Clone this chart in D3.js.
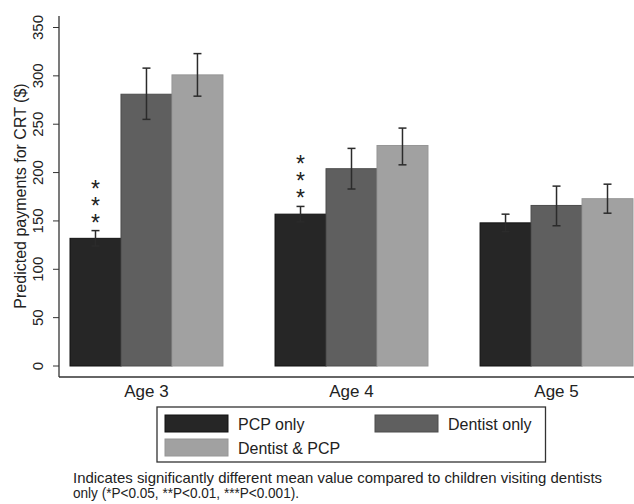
<!DOCTYPE html>
<html>
<head>
<meta charset="utf-8">
<script src="https://cdn.jsdelivr.net/npm/d3@7"></script>
<style>
  body { margin: 0; background: #fff; }
  svg { display: block; font-family: "Liberation Sans", Arial, sans-serif; }
</style>
</head>
<body>
<div class="chart"></div>
<script>
// Data
var ages = ["Age 3", "Age 4", "Age 5"];
var groups = ["PCP only", "Dentist only", "Dentist & PCP"];
var pcpOnly = [132, 157, 148];
var pcpLow = [124, 149, 139];
var pcpHigh = [140, 165, 157];
var dentistOnly = [281, 204, 166];
var dentistLow = [255, 183, 145];
var dentistHigh = [308, 225, 186];
var both = [301, 228, 173];
var bothLow = [279, 208, 158];
var bothHigh = [323, 246, 188];
var pcpStars = [3, 3, 0];
var yTicks = [0, 50, 100, 150, 200, 250, 300, 350];
var colors = ["#262626", "#5f5f5f", "#a1a1a1"];
var strokes = ["#111111", "#4c4c4c", "#969696"];

var svgWidth = 634;
var svgHeight = 504;

var svg = d3.select(".chart")
  .append("svg")
  .attr("width", svgWidth)
  .attr("height", svgHeight);

svg.append("rect").attr("width", svgWidth).attr("height", svgHeight).attr("fill", "#fff");

// build rows from the arrays
var rows = [];
ages.forEach(function(age, i) {
  rows.push({age: age, g: 0, v: pcpOnly[i], lo: pcpLow[i], hi: pcpHigh[i], stars: pcpStars[i]});
  rows.push({age: age, g: 1, v: dentistOnly[i], lo: dentistLow[i], hi: dentistHigh[i], stars: 0});
  rows.push({age: age, g: 2, v: both[i], lo: bothLow[i], hi: bothHigh[i], stars: 0});
});

var xBand = d3.scaleBand().domain(ages).range([70, 633]).paddingInner(0.254).paddingOuter(0);
var xInner = d3.scaleBand().domain([0, 1, 2]).range([0, xBand.bandwidth()]);
var y = d3.scaleLinear().domain([0, 350]).range([366, 27.5]);

// y axis
var yAxis = svg.append("g")
  .attr("transform", "translate(59,0)")
  .call(d3.axisLeft(y).tickValues(yTicks).tickSize(6).tickPadding(3));
yAxis.select(".domain").remove();
yAxis.selectAll("line").attr("stroke", "#333");
yAxis.selectAll("text")
  .attr("transform", function(d) { return "rotate(-90," + (-16) + "," + y(d) + ")"; })
  .attr("x", -16)
  .attr("y", function(d) { return y(d); })
  .attr("dy", "0")
  .attr("text-anchor", "middle")
  .style("font-size", "15px")
  .attr("fill", "#222");
yAxis.selectAll(".tick").attr("transform", null);
yAxis.selectAll(".tick line").attr("transform", function(d) { return "translate(0," + y(d) + ")"; });

svg.append("line")
  .attr("x1", 59).attr("x2", 59).attr("y1", 16).attr("y2", 377)
  .attr("stroke", "#333").attr("stroke-width", 1.3);

// x axis
var xAxis = svg.append("g")
  .attr("transform", "translate(0,377)")
  .call(d3.axisBottom(xBand).tickSize(0).tickPadding(8));
xAxis.select(".domain").remove();
xAxis.selectAll("text").style("font-size", "17px").attr("fill", "#222");
svg.append("line")
  .attr("x1", 59).attr("x2", 634).attr("y1", 377).attr("y2", 377)
  .attr("stroke", "#333").attr("stroke-width", 1.3);

// bars
svg.selectAll("rect.bar")
  .data(rows)
  .enter().append("rect")
  .attr("class", "bar")
  .attr("x", function(d) { return xBand(d.age) + xInner(d.g); })
  .attr("y", function(d) { return y(d.v); })
  .attr("width", xInner.bandwidth())
  .attr("height", function(d) { return y(0) - y(d.v); })
  .attr("fill", function(d) { return colors[d.g]; })
  .attr("stroke", function(d) { return strokes[d.g]; })
  .attr("stroke-width", 1);

// error bars
var err = svg.selectAll("g.err")
  .data(rows)
  .enter().append("g")
  .attr("class", "err")
  .attr("stroke", "#2b2b2b")
  .attr("stroke-width", 1.5);
function cx(d) { return xBand(d.age) + xInner(d.g) + xInner.bandwidth() / 2; }
err.append("line")
  .attr("x1", cx).attr("x2", cx)
  .attr("y1", function(d) { return y(d.lo); })
  .attr("y2", function(d) { return y(d.hi); });
err.append("line")
  .attr("x1", function(d) { return cx(d) - 4; }).attr("x2", function(d) { return cx(d) + 4; })
  .attr("y1", function(d) { return y(d.lo); }).attr("y2", function(d) { return y(d.lo); });
err.append("line")
  .attr("x1", function(d) { return cx(d) - 4; }).attr("x2", function(d) { return cx(d) + 4; })
  .attr("y1", function(d) { return y(d.hi); }).attr("y2", function(d) { return y(d.hi); });

// significance stars: one vertical text per bar
rows.filter(function(d) { return d.stars > 0; }).forEach(function(d) {
  svg.append("text")
    .attr("x", cx(d))
    .attr("y", y(d.hi) - 12 - (d.stars - 1) * 16 - 11)
    .style("writing-mode", "vertical-rl")
    .style("text-orientation", "upright")
    .style("letter-spacing", "-9px")
    .style("font-size", "23px")
    .attr("fill", "#222")
    .text(d3.range(d.stars).map(function() { return "*"; }).join(""));
});

// y axis title
svg.append("text")
  .attr("transform", "translate(26,196) rotate(-90)")
  .attr("text-anchor", "middle")
  .style("font-size", "16px")
  .attr("fill", "#222")
  .text("Predicted payments for CRT ($)");

// legend
var legend = svg.append("g");
legend.append("rect")
  .attr("x", 157).attr("y", 407).attr("width", 388.5).attr("height", 55)
  .attr("fill", "#fff").attr("stroke", "#333").attr("stroke-width", 1.3);
var legPos = [[165, 415], [375, 415], [165, 439]];
groups.forEach(function(name, i) {
  legend.append("rect")
    .attr("x", legPos[i][0]).attr("y", legPos[i][1])
    .attr("width", 63).attr("height", 17)
    .attr("fill", colors[i]).attr("stroke", strokes[i]);
  legend.append("text")
    .attr("x", legPos[i][0] + 73).attr("y", legPos[i][1] + 15)
    .style("font-size", "16px")
    .attr("fill", "#222")
    .text(name);
});

// footnote
svg.append("text")
  .attr("x", 73).attr("y", 483)
  .attr("textLength", 529).attr("lengthAdjust", "spacingAndGlyphs")
  .style("font-size", "14.5px").attr("fill", "#222")
  .text("Indicates significantly different mean value compared to children visiting dentists");
svg.append("text")
  .attr("x", 73).attr("y", 498)
  .attr("textLength", 226).attr("lengthAdjust", "spacingAndGlyphs")
  .style("font-size", "14.5px").attr("fill", "#222")
  .text("only (*P<0.05, **P<0.01, ***P<0.001).");
</script>
</body>
</html>
